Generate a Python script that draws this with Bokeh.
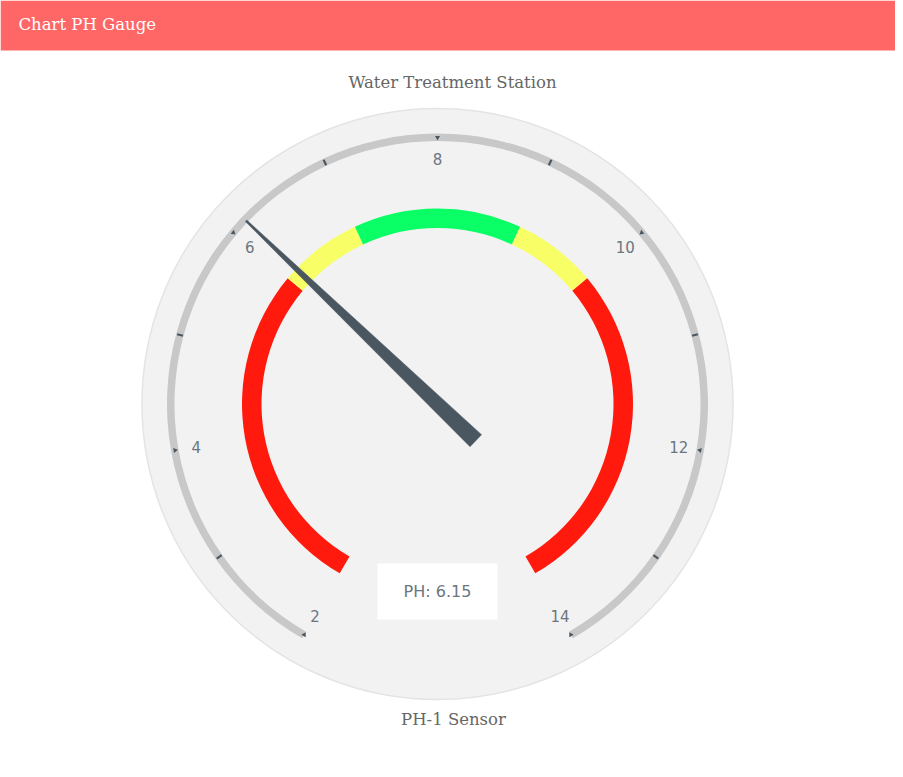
import numpy as np
from bokeh.plotting import figure
from bokeh.models import Range1d
from bokeh.core.properties import value
from bokeh.embed import file_html
from bokeh.resources import INLINE

# ---- data ----
header_text = "Chart PH Gauge"
title_text = "Water Treatment Station"
subtitle_text = "PH-1 Sensor"
ph_min = 2
ph_max = 14
tick_values = list(range(2, 15))
label_values = [2, 4, 6, 8, 10, 12, 14]
band_from = [2, 6, 7, 9, 10]
band_to = [6, 7, 9, 10, 14]
band_colors = ["#ff1a0d", "#f8ff66", "#0aff66", "#f8ff66", "#ff1a0d"]
ph_value = 6.15
value_label = "PH: 6.15"

# ---- layout (screenshot pixel space) ----
W, H = 895, 769
def Y(py):
    return H - py

CX, CY = 437, Y(403.5)
SWEEP = 300.0

def theta(v):
    frac = (np.asarray(v, dtype=float) - ph_min) / (ph_max - ph_min)
    return np.radians(90 + SWEEP / 2 - frac * SWEEP)

p = figure(width=W, height=H, x_range=Range1d(0, W), y_range=Range1d(0, H),
           output_backend="svg", toolbar_location=None, min_border=0)
p.axis.visible = False
p.grid.visible = False
p.outline_line_color = None
p.background_fill_color = "white"
p.border_fill_color = "white"

# header bar
p.quad(left=0, right=W, top=H, bottom=Y(50), fill_color="#ff6666", line_color=None)
p.text(x=[18], y=[Y(24)], text=[header_text], text_font=value("DejaVu Serif"),
       text_font_size="16.5px", text_color="white", text_baseline="middle", text_align="left")

# title / subtitle
p.text(x=[452], y=[Y(82)], text=[title_text], text_font=value("DejaVu Serif"),
       text_font_size="16.5px", text_color="#666666", text_baseline="middle", text_align="center")
p.text(x=[453], y=[Y(719)], text=[subtitle_text], text_font=value("DejaVu Serif"),
       text_font_size="16.5px", text_color="#666666", text_baseline="middle", text_align="center")

# background disc
p.circle(x=[CX], y=[CY], radius=295.5, fill_color="#f2f2f2", line_color="#e4e4e4", line_width=1.5)

# scale arc
p.annular_wedge(x=CX, y=CY, inner_radius=263, outer_radius=270.5,
                start_angle=float(theta(ph_max)), end_angle=float(theta(ph_min)),
                fill_color="#c8c8c8", line_color=None)

# colour bands
p.annular_wedge(x=CX, y=CY, inner_radius=176, outer_radius=195.5,
                start_angle=theta(band_to), end_angle=theta(band_from),
                fill_color=band_colors, line_color=None)

# ticks
tv = np.array(tick_values)
odd = tv[tv % 2 == 1]
even = tv[tv % 2 == 0]
to = theta(odd)
p.segment(x0=CX + 263.5 * np.cos(to), y0=CY + 263.5 * np.sin(to),
          x1=CX + 269.5 * np.cos(to), y1=CY + 269.5 * np.sin(to),
          line_color="#4a5660", line_width=2.2)
te = theta(even)
p.scatter(x=CX + 266.5 * np.cos(te), y=CY + 266.5 * np.sin(te), marker="triangle",
          size=5, angle=te + np.pi / 2, fill_color="#4a5660", line_color=None)

# labels
tl = theta(label_values)
p.text(x=CX + 245 * np.cos(tl), y=CY + 245 * np.sin(tl), text=[str(v) for v in label_values],
       text_font=value("DejaVu Sans"), text_font_size="15px", text_color="#6c7680",
       text_align="center", text_baseline="middle")

# needle
a = float(theta(ph_value))
ux, uy = np.cos(a), np.sin(a)
nx, ny = -uy, ux
tip = 265
back = -53
half_b = 8.3
half_t = 1.0
xs = [CX + tip * ux + half_t * nx, CX + back * ux + half_b * nx,
      CX + back * ux - half_b * nx, CX + tip * ux - half_t * nx]
ys = [CY + tip * uy + half_t * ny, CY + back * uy + half_b * ny,
      CY + back * uy - half_b * ny, CY + tip * uy - half_t * ny]
p.patch(x=xs, y=ys, fill_color="#4a5660", line_color="#4a5660", line_width=0.5)

# value box
p.rect(x=[437], y=[Y(591)], width=120, height=56, fill_color="white", line_color=None)
p.text(x=[437], y=[Y(591)], text=[value_label], text_font=value("DejaVu Sans"),
       text_font_size="16px", text_color="#6c7680", text_align="center", text_baseline="middle")

open("out.html", "w").write(file_html(p, INLINE))
